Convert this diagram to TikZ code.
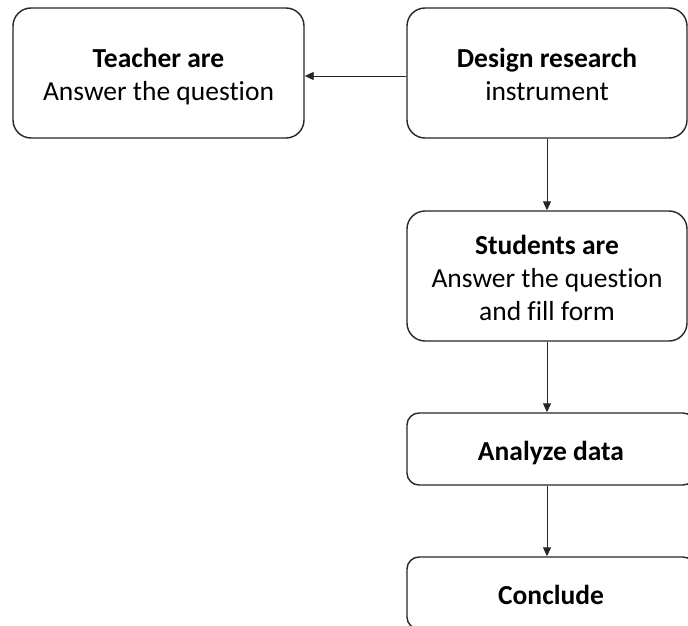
\documentclass[tikz,border=0pt]{standalone}
\usepackage{fontspec}
\setmainfont{Carlito}[Ligatures={NoCommon}]
\usetikzlibrary{arrows.meta}
\newcommand\bs{\rule[-5.5pt]{0pt}{33pt}}
\tikzset{
  box/.style={draw=black!85, line width=1.4pt, fill=white, align=center, inner sep=0pt,
    font=\fontsize{27.5}{33}\selectfont},
  conn/.style={draw=black!85, line width=0.9pt, -{Triangle[length=9pt,width=8pt]}}
}
\begin{document}
\begin{tikzpicture}[x=1pt,y=1pt]
\useasboundingbox (0,0) rectangle (688,-626);
\clip (0,0) rectangle (688,-626);
\node[box, rounded corners=18pt, minimum width=291pt, minimum height=130pt] (b1) at (158.5,-73) {\bs\textbf{Teacher are}\\\bs Answer the question};
\node[box, rounded corners=18pt, minimum width=280pt, minimum height=130pt] (b2) at (547,-73) {\bs\textbf{Design research}\\\bs instrument};
\node[box, rounded corners=18pt, minimum width=280pt, minimum height=130pt] (b3) at (547,-276) {\bs\textbf{Students are}\\\bs Answer the question\\\bs and fill form};
\node[box, rounded corners=12pt, minimum width=288pt, minimum height=72pt] (b4) at (551,-449) {\bs\textbf{Analyze data}};
\node[box, rounded corners=12pt, minimum width=288pt, minimum height=72pt] (b5) at (551,-593) {\bs\textbf{Conclude}};
\draw[conn] ([yshift=-3pt]b2.west) -- ([yshift=-3pt]b1.east);
\draw[conn] (b2.south) -- (b3.north);
\draw[conn] (b3.south) -- (b3.south |- b4.north);
\draw[conn] (b3.south |- b4.south) -- (b3.south |- b5.north);
\end{tikzpicture}
\end{document}
